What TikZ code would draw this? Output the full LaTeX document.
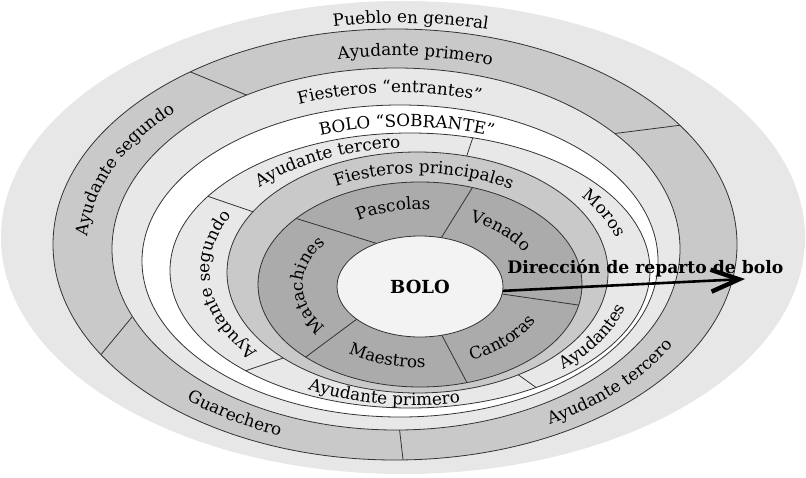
\documentclass[tikz,border=0pt]{standalone}
\usepackage{fontspec}
\setmainfont{DejaVu Serif}
\usetikzlibrary{shapes.geometric,decorations.text,arrows.meta}

\definecolor{grisfondo}{HTML}{E7E7E7}
\definecolor{grismedio}{HTML}{C9C9C9}
\definecolor{grisclaro}{HTML}{E8E8E8}
\definecolor{grisoscuro}{HTML}{ABABAB}
\definecolor{grisbolo}{HTML}{F3F3F3}
\definecolor{linea}{HTML}{333333}

\newcommand{\rotfont}{\fontsize{8.4}{10}\selectfont}

\tikzset{
  anillo/.style={draw=linea, line width=0.4pt},
  separa/.style={draw=linea, line width=0.4pt},
  rotulo/.style={decorate, decoration={text along path, text={|\rotfont|#1}, text align=center}},
  flecha/.style={line width=1.3pt, -{Straight Barb[length=14pt, width=11pt, line width=2.2pt]}}
}

\begin{document}
\begin{tikzpicture}[x=0.5pt, y=0.5pt]
\useasboundingbox (0,0) rectangle (806,477);

% Anillo exterior: pueblo en general
\fill[grisfondo] (403,239.5) ellipse [x radius=402, y radius=236.5];

% Anillo de los ayudantes y el guarechero
\filldraw[anillo, fill=grismedio] (395,232.5) ellipse [x radius=342, y radius=215.5];
\begin{scope}
  \clip (395,232.5) ellipse [x radius=342, y radius=215.5];
  \draw[separa] (181,409) -- (256,378);
  \draw[separa] (611,343) -- (690,353);
  \draw[separa] (94,114) -- (137,166);
  \draw[separa] (399,52) -- (404,9);
\end{scope}

% Fiesteros entrantes y bolo sobrante
\filldraw[anillo, fill=grisclaro] (396,228) ellipse [x radius=284, y radius=181];
\filldraw[anillo, fill=white] (400,216) ellipse [x radius=258, y radius=156];

% Anillo de ayudantes, moros
\filldraw[anillo, fill=grisclaro] (410,206.5) ellipse [x radius=240, y radius=137.5];
\begin{scope}
  \clip (410,206.5) ellipse [x radius=240, y radius=137.5];
  \draw[separa] (474,343) -- (466,319);
  \draw[separa] (200,283.4) -- (258,263.5);
  \draw[separa] (506,111) -- (548,81);
  \draw[separa] (236,103) -- (295,123);
\end{scope}

% Fiesteros principales
\filldraw[anillo, fill=grismedio] (417.5,204.5) ellipse [x radius=190.5, y radius=120.5];

% Pascolas, venado, cantoras, maestros y matachines
\filldraw[anillo, fill=grisoscuro] (420,192.5) ellipse [x radius=162, y radius=102.5];
\begin{scope}
  \clip (420,192.5) ellipse [x radius=162, y radius=102.5];
  \draw[separa] (285,262) -- (385,231);
  \draw[separa] (479,300) -- (438,234);
  \draw[separa] (495,184) -- (592,170);
  \draw[separa] (438,149) -- (473,83);
  \draw[separa] (295,112) -- (365,164);
\end{scope}

% El bolo al centro
\node[ellipse, anillo, fill=grisbolo, minimum width=83pt, minimum height=50.5pt, inner sep=0pt,
  font=\fontsize{9}{11}\selectfont\bfseries] (bolo) at (420,190.5) {BOLO};

% Rotulos sobre los anillos
\path[rotulo={Pueblo en general}] (399,236) ++(118:365 and 218) arc[start angle=118, end angle=58, x radius=365, y radius=218];
\path[rotulo={Ayudante primero}] (395.5,230.25) ++(116:306 and 191) arc[start angle=116, end angle=56, x radius=306, y radius=191];
\path[rotulo={Ayudante segundo}] (395.5,230.25) ++(190:308 and 193) arc[start angle=190, end angle=126, x radius=308, y radius=193];
\path[rotulo={Guarechero}] (395.5,230.25) ++(218:318 and 203) arc[start angle=218, end angle=258, x radius=318, y radius=203];
\path[rotulo={Ayudante tercero}] (395.5,230.25) ++(290:318 and 203) arc[start angle=290, end angle=343, x radius=318, y radius=203];
\path[rotulo={Fiesteros “entrantes”}] (398,222) ++(125:265 and 162.5) arc[start angle=125, end angle=59, x radius=265, y radius=162.5];
\path[rotulo={BOLO “SOBRANTE”}] (405,211.25) ++(124:241 and 139) arc[start angle=124, end angle=55, x radius=241, y radius=139];
\path[rotulo={Ayudante tercero}] (413.75,205.5) ++(150:210 and 124) arc[start angle=150, end angle=84, x radius=210, y radius=124];
\path[rotulo={Moros}] (413.75,205.5) ++(45:210 and 124) arc[start angle=45, end angle=5, x radius=210, y radius=124];
\path[rotulo={Ayudantes}] (413.75,205.5) ++(305:220 and 134) arc[start angle=305, end angle=355, x radius=220, y radius=134];
\path[rotulo={Ayudante primero}] (413.75,205.5) ++(225:220 and 134) arc[start angle=225, end angle=297, x radius=220, y radius=134];
\path[rotulo={Ayudante segundo}] (413.75,205.5) ++(230:204 and 124) arc[start angle=230, end angle=142, x radius=204, y radius=124];
\path[rotulo={Fiesteros principales}] (418.75,198.5) ++(130:170.5 and 105.5) arc[start angle=130, end angle=46, x radius=170.5, y radius=105.5];
\path[rotulo={Pascolas}] (420,191.5) ++(135:118 and 76) arc[start angle=135, end angle=73, x radius=118, y radius=76];
\path[rotulo={Venado}] (420,191.5) ++(70:117 and 71) arc[start angle=70, end angle=20, x radius=117, y radius=71];
\path[rotulo={Matachines}] (420,191.5) ++(225:117 and 71) arc[start angle=225, end angle=135, x radius=117, y radius=71];
\path[rotulo={Maestros}] (420,191.5) ++(225:128 and 82) arc[start angle=225, end angle=282, x radius=128, y radius=82];
\path[rotulo={Cantoras}] (420,191.5) ++(285:128 and 82) arc[start angle=285, end angle=347, x radius=128, y radius=82];

% Direccion del reparto
\coordinate (punta) at (745,198);
\draw[flecha] (bolo.-3) -- (punta);
\node[anchor=base west, inner sep=0pt, font=\fontsize{8.6}{10}\selectfont\bfseries] (direccion) at (507,204) {Dirección de reparto de bolo};

\end{tikzpicture}
\end{document}
